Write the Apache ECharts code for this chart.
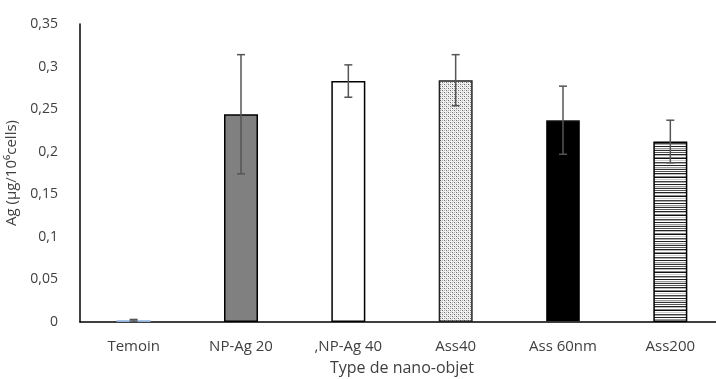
<!DOCTYPE html>
<html><head><meta charset="utf-8">
<script src="https://cdn.jsdelivr.net/npm/echarts@6/dist/echarts.min.js"></script>
<style>html,body{margin:0;padding:0;background:#fff}#c{width:716px;height:379px}</style>
</head><body><div id="c"></div>
<script>
const categories = ['Temoin', 'NP-Ag 20', ',NP-Ag 40', 'Ass40', 'Ass 60nm', 'Ass200'];
const values = [0.002, 0.244, 0.283, 0.284, 0.237, 0.212];
const errors = [0.001, 0.070, 0.019, 0.030, 0.040, 0.025];
const yTicks = [0, 0.05, 0.1, 0.15, 0.2, 0.25, 0.3, 0.35];

function makeCanvas(w, h, draw) {
  const c = document.createElement('canvas');
  c.width = w; c.height = h;
  draw(c.getContext('2d'));
  return c;
}
const dotPattern = makeCanvas(4, 4, g => {
  g.fillStyle = '#f4f4f4'; g.fillRect(0, 0, 4, 4);
  g.fillStyle = '#6a6a6a';
  g.fillRect(0, 0, 1, 1); g.fillRect(2, 2, 1, 1);
  g.fillStyle = '#b0b0b0';
  g.fillRect(2, 0, 1, 1); g.fillRect(0, 2, 1, 1);
  g.fillStyle = '#d8d8d8';
  g.fillRect(1, 1, 1, 1); g.fillRect(3, 3, 1, 1);
});
const stripeRows = ['#555','#fff','#222','#bbb','#fff','#888','#111','#fff','#ccc','#fff','#444','#aaa','#fff','#222','#fff','#999','#ddd','#333','#fff'];
const stripePattern = makeCanvas(4, stripeRows.length, g => {
  stripeRows.forEach((col, i) => { g.fillStyle = col; g.fillRect(0, i, 4, 1); });
});

const styles = [
  { color: '#8fb2dc', borderWidth: 0 },
  { color: '#808080', borderColor: '#000', borderWidth: 1.5 },
  { color: '#ffffff', borderColor: '#000', borderWidth: 1.5 },
  { color: { image: dotPattern, repeat: 'repeat' }, borderColor: '#222', borderWidth: 1.5 },
  { color: '#000000', borderColor: '#333', borderWidth: 1 },
  { color: { image: stripePattern, repeat: 'repeat' }, borderColor: '#000', borderWidth: 1.5 }
];

const chart = echarts.init(document.getElementById('c'));
const fontFam = '"Open Sans", "Noto Sans", sans-serif';
chart.setOption({
  animation: false,
  grid: { left: 80, top: 24, width: 644, bottom: 57, containLabel: false, outerBoundsMode: 'none' },
  xAxis: {
    type: 'category', data: categories,
    axisLine: { lineStyle: { color: '#000', width: 1.5 } },
    axisTick: { show: false },
    axisLabel: { color: '#404040', fontSize: 15, margin: 17, fontFamily: fontFam },
    name: 'Type de nano-objet', nameLocation: 'middle', nameGap: 38,
    nameTextStyle: { color: '#404040', fontSize: 16, fontFamily: fontFam }
  },
  yAxis: {
    type: 'value', min: 0, max: 0.35, interval: 0.05,
    axisLine: { show: true, lineStyle: { color: '#000', width: 1.5 } },
    axisTick: { show: false },
    splitLine: { show: false },
    axisLabel: { color: '#404040', fontSize: 14, margin: 22, fontFamily: fontFam,
      formatter: v => { const t = yTicks.find(x => Math.abs(x - v) < 1e-9); return String(+(t ?? v).toFixed(2)).replace('.', ','); } },
    name: 'Ag (µg/10⁶cells)', nameLocation: 'middle', nameGap: 48, nameRotate: 90,
    nameTextStyle: { color: '#404040', fontSize: 15, fontFamily: fontFam }
  },
  series: [
    {
      type: 'bar', barWidth: 34,
      data: values.map((v, i) => ({ value: v, itemStyle: styles[i] }))
    },
    {
      type: 'custom',
      data: values.map((v, i) => [i, v - errors[i], v + errors[i]]),
      renderItem: (params, api) => {
        const lo = api.coord([api.value(0), api.value(1)]);
        const hi = api.coord([api.value(0), api.value(2)]);
        const x = lo[0], hw = 4;
        const st = { stroke: '#555', lineWidth: 1.5 };
        return { type: 'group', children: [
          { type: 'line', shape: { x1: x, y1: lo[1], x2: x, y2: hi[1] }, style: st },
          { type: 'line', shape: { x1: x - hw, y1: lo[1], x2: x + hw, y2: lo[1] }, style: st },
          { type: 'line', shape: { x1: x - hw, y1: hi[1], x2: x + hw, y2: hi[1] }, style: st }
        ]};
      },
      z: 5
    }
  ]
});
</script></body></html>
